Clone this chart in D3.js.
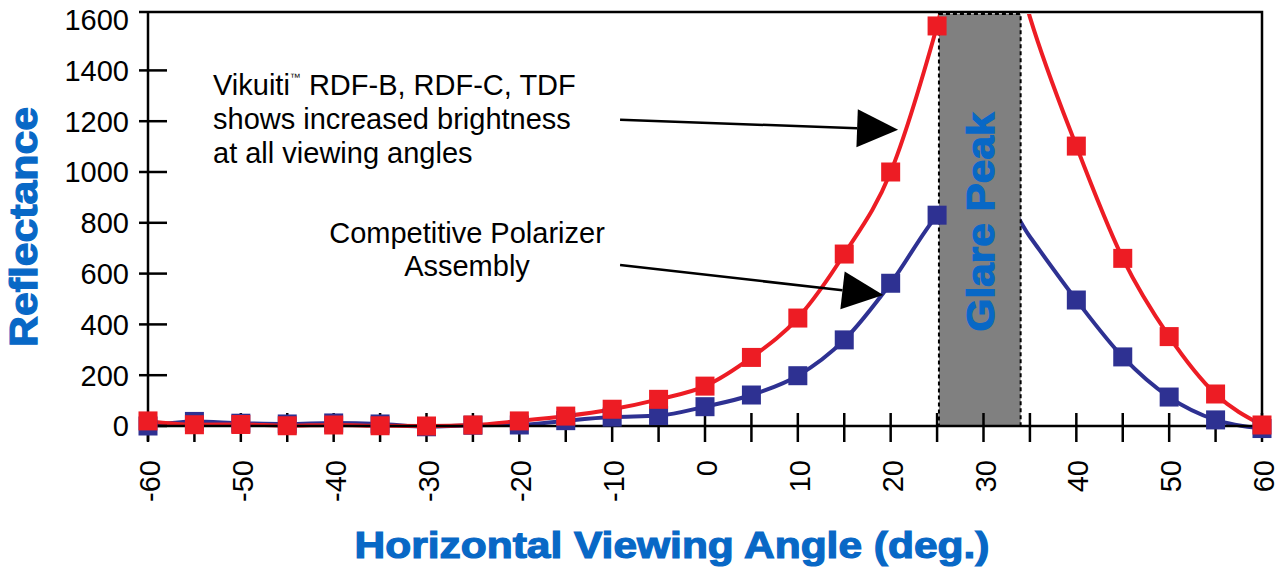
<!DOCTYPE html>
<html>
<head>
<meta charset="utf-8">
<script src="https://cdnjs.cloudflare.com/ajax/libs/d3/7.8.5/d3.min.js"></script>
<style>
  html, body { margin: 0; padding: 0; background: #fff; }
  svg { display: block; font-family: "Liberation Sans", Arial, sans-serif; }
</style>
</head>
<body>
<div id="chart"></div>
<script>
// viewing angle (deg.) and reflectance
let angles = [-60, -55, -50, -45, -40, -35, -30, -25, -20, -15, -10, -5, 0, 5, 10, 15, 20, 25, 30, 35, 40, 45, 50, 55, 60];
let rdfValues = [20, 5, 6, 1, 4, 1, 0, 4, 20, 39, 66, 105, 157, 270, 425, 677, 1000, 1575, 2300, 1610, 1102, 660, 352, 126, 4];
let compValues = [0, 18, 11, 8, 12, 8, -3, 3, 4, 21, 35, 41, 76, 122, 198, 339, 562, 830, 1000, 745, 496, 272, 114, 24, -10];
let hiddenMarkers = [30, 35];   // behind the glare band
let glareRange = [25.2, 34];
let yTicks = [0, 200, 400, 600, 800, 1000, 1200, 1400];
let yLabels = [0, 200, 400, 600, 800, 1000, 1200, 1400, 1600];
let xTicks = d3.range(-60, 61, 5);
let xLabels = d3.range(-60, 61, 10);

let width = 1284, height = 567;
let blueText = "#0868c6", red = "#ed1c24", navy = "#2e3192";

let x = d3.scaleLinear().domain([-60, 60]).range([148, 1262]);
let y = d3.scaleLinear().domain([0, 1600]).range([426, 19.6]);
let frameTop = 12;

let svg = d3.select("#chart").append("svg")
  .attr("width", width)
  .attr("height", height);

svg.append("defs").append("clipPath").attr("id", "plot-clip")
  .append("rect")
  .attr("x", x(-60)).attr("y", frameTop + 2)
  .attr("width", x(60) - x(-60)).attr("height", y(0) + 20 - frameTop);

let line = d3.line()
  .x(d => x(d[0]))
  .y(d => y(d[1]))
  .curve(d3.curveMonotoneX);

let rdf = angles.map((a, i) => [a, rdfValues[i]]);
let comp = angles.map((a, i) => [a, compValues[i]]);

// curves
let gLines = svg.append("g").attr("clip-path", "url(#plot-clip)");
gLines.append("path").datum(comp)
  .attr("d", line).attr("fill", "none")
  .attr("stroke", navy).attr("stroke-width", 4);
gLines.append("path").datum(rdf)
  .attr("d", line).attr("fill", "none")
  .attr("stroke", red).attr("stroke-width", 4);

// glare band
svg.append("rect")
  .attr("x", x(glareRange[0]))
  .attr("y", frameTop + 2)
  .attr("width", x(glareRange[1]) - x(glareRange[0]))
  .attr("height", y(0) - frameTop - 2)
  .attr("fill", "#808080")
  .attr("stroke", "#000")
  .attr("stroke-width", 2)
  .attr("stroke-dasharray", "4,3");

let gx = (x(glareRange[0]) + x(glareRange[1])) / 2;
svg.append("text")
  .attr("transform", "translate(" + (gx + 14) + ",222) rotate(-90)")
  .attr("text-anchor", "middle")
  .attr("font-size", 38)
  .attr("font-weight", 700)
  .attr("fill", blueText)
  .attr("stroke", blueText).attr("stroke-width", 1.2)
  .attr("textLength", 219).attr("lengthAdjust", "spacingAndGlyphs")
  .text("Glare Peak");

// frame
svg.append("path")
  .attr("d", "M" + (x(-60) - 9) + "," + frameTop + "H" + x(60) + "V" + y(0))
  .attr("fill", "none").attr("stroke", "#000").attr("stroke-width", 2.5);

// y axis
svg.append("line")
  .attr("x1", x(-60)).attr("x2", x(-60))
  .attr("y1", frameTop).attr("y2", y(0) + 15)
  .attr("stroke", "#000").attr("stroke-width", 2.5);
svg.selectAll(".ytick").data(yTicks).enter().append("line")
  .attr("class", "ytick")
  .attr("x1", x(-60) - 9).attr("x2", x(-60) + 19)
  .attr("y1", d => y(d)).attr("y2", d => y(d))
  .attr("stroke", "#000").attr("stroke-width", 2.5);
svg.selectAll(".ylab").data(yLabels).enter().append("text")
  .attr("class", "ylab")
  .attr("x", x(-60) - 19)
  .attr("y", d => y(d))
  .attr("dy", "0.36em")
  .attr("text-anchor", "end")
  .attr("font-size", 29)
  .text(d => d);

// x axis
svg.append("line")
  .attr("x1", x(-60) - 9).attr("x2", x(60))
  .attr("y1", y(0)).attr("y2", y(0))
  .attr("stroke", "#000").attr("stroke-width", 2.5);
svg.selectAll(".xtick").data(xTicks).enter().append("line")
  .attr("class", "xtick")
  .attr("x1", d => x(d)).attr("x2", d => x(d))
  .attr("y1", y(0) - 13).attr("y2", y(0) + 16)
  .attr("stroke", "#000").attr("stroke-width", 2.5);
svg.selectAll(".xlab").data(xLabels).enter().append("text")
  .attr("class", "xlab")
  .attr("transform", d => "translate(" + (x(d) + 12) + "," + (y(0) + 34) + ") rotate(-90)")
  .attr("text-anchor", "end")
  .attr("font-size", 29)
  .text(d => d);

// markers
let size = 19;
function markers(data, color) {
  svg.append("g").selectAll("rect")
    .data(data.filter(d => hiddenMarkers.indexOf(d[0]) < 0))
    .enter().append("rect")
    .attr("x", d => x(d[0]) - size / 2)
    .attr("y", d => y(d[1]) - size / 2)
    .attr("width", size).attr("height", size)
    .attr("fill", color);
}
markers(comp, navy);
markers(rdf, red);

// axis titles
svg.append("text")
  .attr("x", 672).attr("y", 558)
  .attr("text-anchor", "middle")
  .attr("font-size", 37).attr("font-weight", 700)
  .attr("fill", blueText)
  .attr("stroke", blueText).attr("stroke-width", 1.2)
  .attr("textLength", 635).attr("lengthAdjust", "spacingAndGlyphs")
  .text("Horizontal Viewing Angle (deg.)");

svg.append("text")
  .attr("transform", "translate(37,227) rotate(-90)")
  .attr("text-anchor", "middle")
  .attr("font-size", 39).attr("font-weight", 700)
  .attr("fill", blueText)
  .attr("stroke", blueText).attr("stroke-width", 1.2)
  .attr("textLength", 240).attr("lengthAdjust", "spacingAndGlyphs")
  .text("Reflectance");

// annotations
let t1 = svg.append("text").attr("font-size", 29).attr("fill", "#000");
let l1 = t1.append("tspan").attr("x", 213).attr("y", 95);
l1.append("tspan").text("Vikuiti");
l1.append("tspan").attr("font-size", 11).attr("dy", -14).text("™");
l1.append("tspan").attr("dy", 14).text(" RDF-B, RDF-C, TDF");
t1.append("tspan").attr("x", 213).attr("y", 129).text("shows increased brightness");
t1.append("tspan").attr("x", 213).attr("y", 163).text("at all viewing angles");

let t2 = svg.append("text").attr("font-size", 29).attr("fill", "#000")
  .attr("text-anchor", "middle");
t2.append("tspan").attr("x", 467).attr("y", 243).text("Competitive Polarizer");
t2.append("tspan").attr("x", 467).attr("y", 276).text("Assembly");

// arrows: [from angle, from value, to angle, to value]
let arrows = [
  [-9.15, 1206, 20.8, 1166],
  [-9.15, 634, 19.2, 516]
];
arrows.forEach(a => {
  let x0 = x(a[0]), y0 = y(a[1]), x1 = x(a[2]), y1 = y(a[3]);
  let ang = Math.atan2(y1 - y0, x1 - x0);
  let len = 41, hw = 19;
  let bx = x1 - len * Math.cos(ang), by = y1 - len * Math.sin(ang);
  svg.append("line")
    .attr("x1", x0).attr("y1", y0).attr("x2", bx).attr("y2", by)
    .attr("stroke", "#000").attr("stroke-width", 2.5);
  let pts = [
    [x1, y1],
    [bx + hw * Math.sin(ang), by - hw * Math.cos(ang)],
    [bx - hw * Math.sin(ang), by + hw * Math.cos(ang)]
  ];
  svg.append("path")
    .attr("d", "M" + pts.map(p => p.join(",")).join("L") + "Z")
    .attr("fill", "#000");
});
</script>
</body>
</html>
